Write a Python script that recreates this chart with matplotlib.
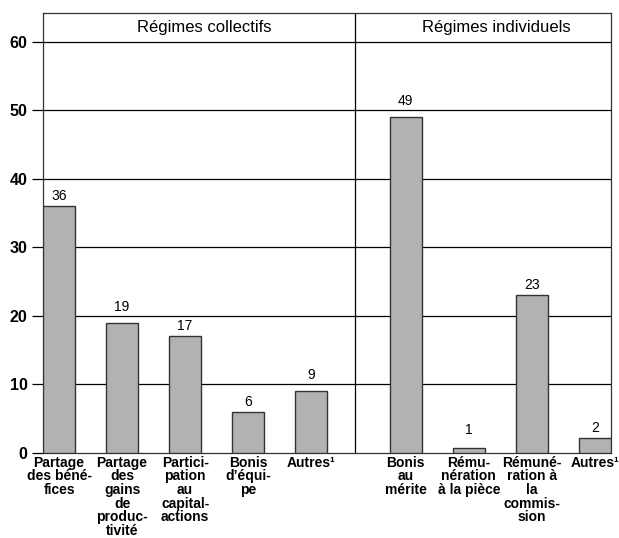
import matplotlib.pyplot as plt

plt.rcParams['font.family'] = ['Liberation Sans', 'DejaVu Sans']

labels_coll = ["Partage\ndes béné-\nfices", "Partage\ndes\ngains\nde\nproduc-\ntivité",
               "Partici-\npation\nau\ncapital-\nactions", "Bonis\nd’équi-\npe", "Autres¹"]
values_coll = [36, 19, 17, 6, 9]
labels_ind = ["Bonis\nau\nmérite", "Rému-\nnération\nà la pièce",
              "Rémuné-\nration à\nla\ncommis-\nsion", "Autres¹"]
# bar heights as drawn; the printed values are rounded
values_ind = [49, 0.7, 23, 2.15]
text_ind = ["49", "1", "23", "2"]
group_titles = ["Régimes collectifs", "Régimes individuels"]

pos_coll = [0, 1, 2, 3, 4]
pos_ind = [5.5, 6.5, 7.5, 8.5]
divider = 4.7
gridlines = [10, 20, 30, 40, 50, 60]

fig = plt.figure(figsize=(6.19, 5.38), dpi=100)
ax = fig.add_axes([43 / 619, 85 / 538, (611 - 43) / 619, (453 - 13) / 538])

bar_color = '#b2b2b2'
edge = '#333333'
groups = ((pos_coll, values_coll, [str(v) for v in values_coll]),
          (pos_ind, values_ind, text_ind))
for pos, vals, txts in groups:
    bars = ax.bar(pos, vals, width=0.51, color=bar_color, edgecolor=edge, linewidth=1, zorder=3)
    for b, v, t in zip(bars, vals, txts):
        y = max(v + 0.45, 2.4)
        # keep labels off the gridlines
        for g in gridlines:
            if y - 0.1 < g < y + 1.6:
                y = g + 0.3
        ax.text(b.get_x() + b.get_width() / 2, y, t, ha='center', va='bottom',
                fontsize=10, zorder=4)

ax.set_xlim(-0.255, 8.755)
ax.set_ylim(0, 64.2)
ax.set_yticks(range(0, 61, 10))
for g in gridlines:
    ax.axhline(g, color='black', linewidth=0.9, zorder=1)
ax.axvline(divider, color='black', linewidth=0.9, zorder=1)

ax.text(2.31, 62.1, group_titles[0], ha='center', va='center', fontsize=12)
ax.text(6.94, 62.1, group_titles[1], ha='center', va='center', fontsize=12)

ax.set_xticks(pos_coll + pos_ind)
ax.set_xticklabels(labels_coll + labels_ind, fontsize=10, fontweight='bold', linespacing=0.97, va='top')
ax.tick_params(axis='x', length=0, pad=2)
ax.tick_params(axis='y', length=8, width=0.9, labelsize=11.5, pad=3)
for lab in ax.get_yticklabels():
    lab.set_fontweight('bold')

for s in ax.spines.values():
    s.set_color('#333333')
    s.set_linewidth(0.9)

fig.savefig('out.png', dpi=100)
